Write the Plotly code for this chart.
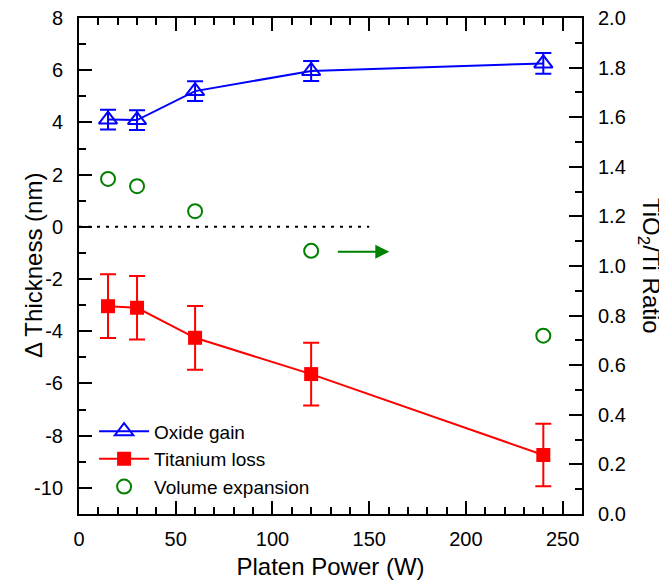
import plotly.graph_objects as go

# ---- data ----
power = [15, 30, 60, 120, 240]
oxide_gain = [4.11, 4.09, 5.20, 5.97, 6.26]
oxide_err = [0.38, 0.38, 0.38, 0.38, 0.40]
titanium_loss = [-3.04, -3.10, -4.25, -5.64, -8.74]
titanium_err = [1.22, 1.22, 1.22, 1.20, 1.20]
volume_ratio = [1.351, 1.322, 1.221, 1.061, 0.719]

x_ticks = [0, 50, 100, 150, 200, 250]
x_ticktext = ["0", "50", "100", "150", "200", "250"]
y_ticks = [-10, -8, -6, -4, -2, 0, 2, 4, 6, 8]
y_ticktext = ["-10", "-8", "-6", "-4", "-2", "0", "2", "4", "6", "8"]
y2_ticks = [0.0, 0.2, 0.4, 0.6, 0.8, 1.0, 1.2, 1.4, 1.6, 1.8, 2.0]
y2_ticktext = ["0.0", "0.2", "0.4", "0.6", "0.8", "1.0", "1.2", "1.4", "1.6", "1.8", "2.0"]

FONT = "Liberation Sans, Arial, sans-serif"
BLUE = "#0000FF"
RED = "#FF0000"
GREEN = "#008000"

fig = go.Figure()

fig.add_trace(go.Scatter(
    x=power, y=oxide_gain, name="Oxide gain", mode="lines+markers",
    line=dict(color=BLUE, width=2),
    marker=dict(symbol="triangle-up-open", size=16, color=BLUE, line=dict(width=2, color=BLUE)),
    error_y=dict(type="data", array=oxide_err, color=BLUE, thickness=2, width=8),
))
fig.add_trace(go.Scatter(
    x=power, y=titanium_loss, name="Titanium loss", mode="lines+markers",
    line=dict(color=RED, width=2),
    marker=dict(symbol="square", size=14, color=RED),
    error_y=dict(type="data", array=titanium_err, color=RED, thickness=2, width=8),
))
fig.add_trace(go.Scatter(
    x=power, y=volume_ratio, name="Volume expansion", mode="markers", yaxis="y2",
    marker=dict(symbol="circle-open", size=14, color=GREEN, line=dict(width=2, color=GREEN)),
))

axis_common = dict(
    showgrid=False, zeroline=False, showline=True, linecolor="black", linewidth=2,
    ticks="inside", ticklen=13, tickwidth=2, tickcolor="black", automargin=False,
    ticklabeloverflow="allow",
    tickfont=dict(family=FONT, size=20, color="black"),
)

# page body adds an 8px offset; figure is sized to fit the 667x580 window
fig.update_layout(
    width=659, height=572,
    margin=dict(l=71, r=85, t=10, b=66),
    paper_bgcolor="white", plot_bgcolor="white",
    font=dict(family=FONT, color="black"),
    showlegend=True,
    legend=dict(
        x=0.03, y=0.205, xanchor="left", yanchor="top",
        bgcolor="rgba(0,0,0,0)", font=dict(family=FONT, size=19, color="black"),
        itemwidth=50, tracegroupgap=0,
    ),
    xaxis=dict(
        range=[0, 260], tickvals=x_ticks, ticktext=x_ticktext, mirror="ticks",
        minor=dict(dtick=10, ticks="inside", ticklen=7, tickwidth=1.5, tickcolor="black"),
        title=dict(text="Platen Power (W)", font=dict(family=FONT, size=24, color="black"), standoff=10),
        ticklabelstandoff=6,
        **axis_common,
    ),
    yaxis=dict(
        range=[-11, 8], tickvals=y_ticks, ticktext=y_ticktext, mirror=True,
        minor=dict(dtick=1, ticks="inside", ticklen=7, tickwidth=1.5, tickcolor="black"),
        ticklabelstandoff=10,
        **axis_common,
    ),
    yaxis2=dict(
        range=[0, 2], tickvals=y2_ticks, ticktext=y2_ticktext, overlaying="y", side="right",
        minor=dict(dtick=0.1, ticks="inside", ticklen=7, tickwidth=1.5, tickcolor="black"),
        ticklabelstandoff=10,
        **axis_common,
    ),
)

# dotted zero line
fig.add_shape(type="line", xref="x", yref="y", x0=0, x1=150, y0=0, y1=0,
              line=dict(color="black", width=2, dash="3px,6px"))

# arrow pointing to right axis
fig.add_annotation(x=160.4, y=-0.95, ax=133, ay=-0.95, xref="x", yref="y", axref="x", ayref="y",
                   text="", showarrow=True, arrowhead=2, arrowsize=1.4, arrowwidth=2,
                   arrowcolor=GREEN)

# left axis title
fig.add_annotation(text="Δ Thickness (nm)", xref="paper", yref="paper",
                   x=0.0, xshift=-46, y=0.5, xanchor="center", yanchor="middle",
                   textangle=-90, showarrow=False,
                   font=dict(family=FONT, size=24, color="black"))

# right axis title (reads top-to-bottom)
fig.add_annotation(text="TiO<sub>2</sub>/Ti Ratio", xref="paper", yref="paper",
                   x=1.0, xshift=68, y=0.5, xanchor="center", yanchor="middle",
                   textangle=90, showarrow=False,
                   font=dict(family=FONT, size=24, color="black"))

fig.write_html("out.html")
